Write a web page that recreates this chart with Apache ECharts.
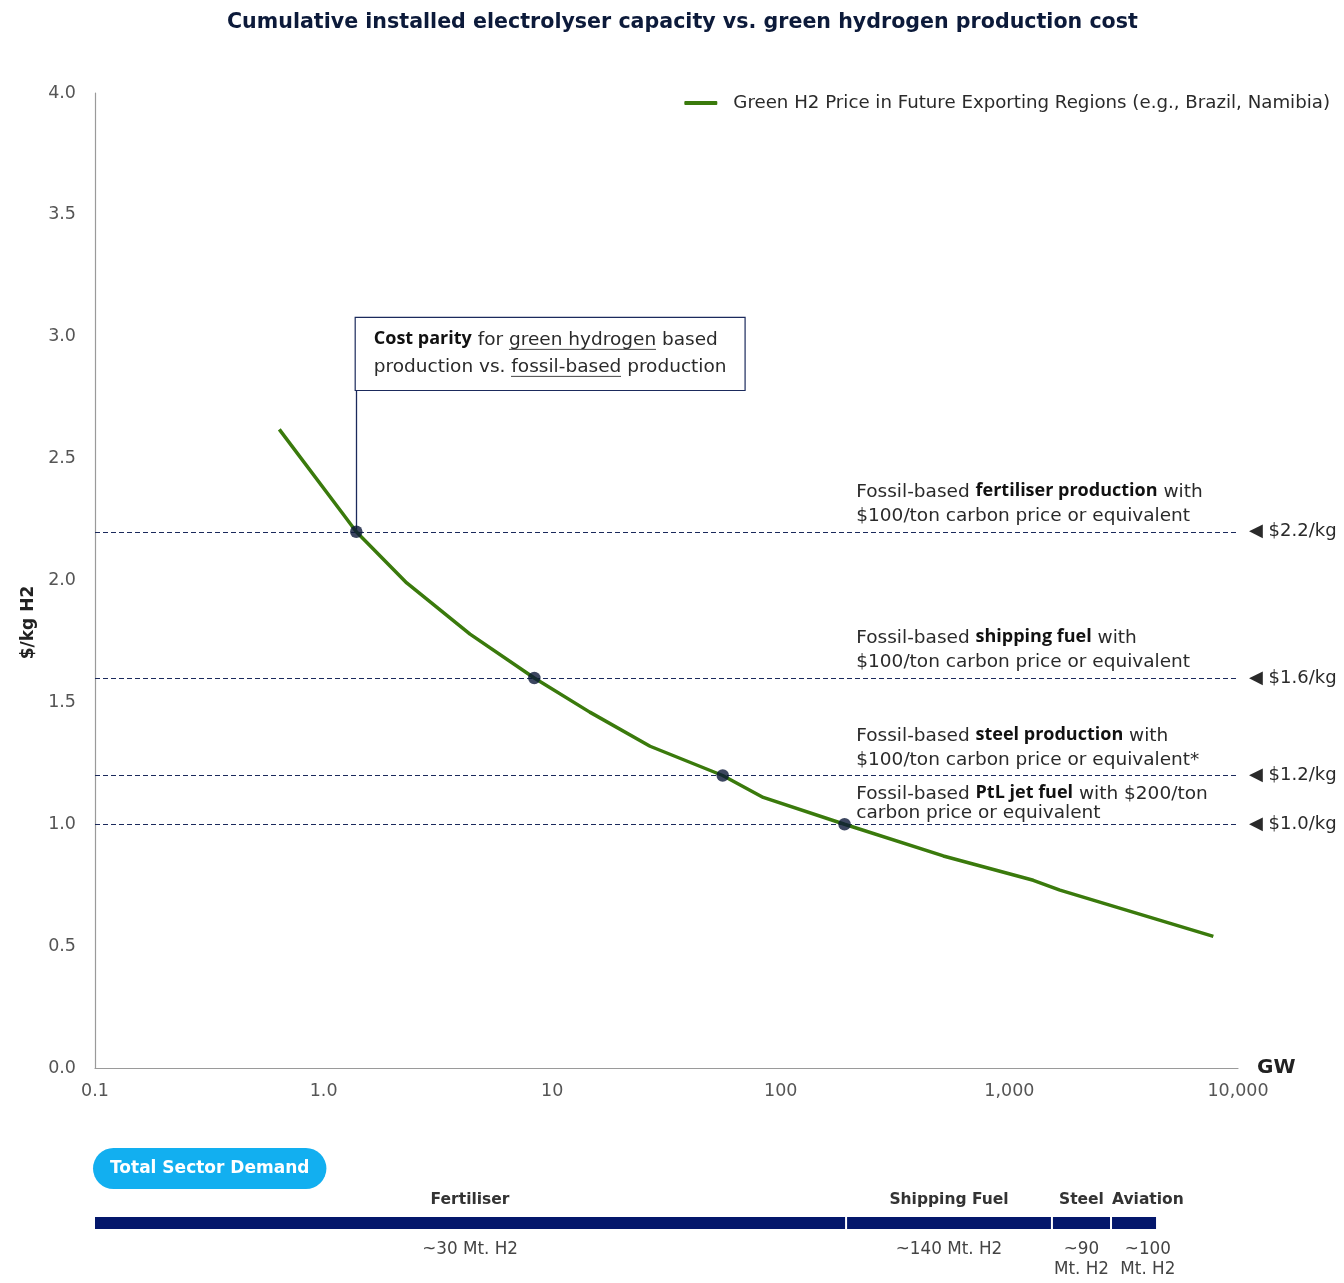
<!DOCTYPE html>
<html>
<head>
<meta charset="utf-8">
<title>Cumulative installed electrolyser capacity vs. green hydrogen production cost</title>
<script src="https://cdn.jsdelivr.net/npm/echarts@6/dist/echarts.min.js"></script>
<style>
  html, body { margin: 0; padding: 0; background: #ffffff; }
  #chart { width: 1344px; height: 1283px; }
</style>
</head>
<body>
<div id="chart"></div>
<script>
// Learning curve: cumulative electrolyser capacity (GW) vs. green H2 cost ($/kg)
const capacityGW   = [0.64, 1.20, 1.39, 2.31, 4.37, 8.35, 14.6, 26.8, 55.7, 83.8, 190, 514, 1272, 1664, 7800];
const costPerKg    = [2.62, 2.28, 2.20, 1.99, 1.78, 1.60, 1.46, 1.32, 1.20, 1.11, 1.00, 0.87, 0.77, 0.73, 0.54];

// Cost-parity points against fossil-based production with a carbon price
const parityGW     = [1.39, 8.35, 55.7, 190];
const parityCost   = [2.2, 1.6, 1.2, 1.0];
const parityTags   = ['$2.2/kg', '$1.6/kg', '$1.2/kg', '$1.0/kg'];
const parityNotes  = [
  'Fossil-based {b|fertiliser production} with\n$100/ton carbon price or equivalent',
  'Fossil-based {b|shipping fuel} with\n$100/ton carbon price or equivalent',
  'Fossil-based {b|steel production} with\n$100/ton carbon price or equivalent*',
  'Fossil-based {b|PtL jet fuel} with $200/ton\ncarbon price or equivalent'
];

// Axis ticks
const xTickValues  = [0.1, 1, 10, 100, 1000, 10000];
const xTickLabels  = ['0.1', '1.0', '10', '100', '1,000', '10,000'];

// Total sector demand, laid along the same capacity scale
const sectorNames   = ['Fertiliser', 'Shipping Fuel', 'Steel', 'Aviation'];
const sectorDemand  = ['~30 Mt. H2', '~140 Mt. H2', '~90\nMt. H2', '~100\nMt. H2'];
const sectorStartGW = [0.1, 193, 1535, 2783];
const sectorEndGW   = [193, 1535, 2783, 4424];

const FONT = 'DejaVu Sans';
const BOLD_FONT = 'Open Sans';
const NAVY = '#0b1838';
const LINE_NAVY = '#1b2a5c';
const GREEN = '#3a7a0c';
const TEXT = '#2a2a2a';
const BODY = 18.5;   // regular annotation text
const BOLD = 18;     // emphasised words inside annotations

// thin underline drawn as a stretched background image behind rich-text words
function underlineImage(h, row, color) {
  const c = document.createElement('canvas');
  c.width = 4; c.height = h;
  const ctx = c.getContext('2d');
  ctx.fillStyle = color;
  ctx.fillRect(0, row, 4, 1);
  return c;
}
const uline = underlineImage(27, 22, '#444');

const measureCtx = document.createElement('canvas').getContext('2d');
function textWidth(str, font) { measureCtx.font = font; return measureCtx.measureText(str).width; }

const chart = echarts.init(document.getElementById('chart'), null, { renderer: 'canvas' });

const noteAnchorGW = 215;
const calloutTop = 2.78;
const hiddenDot = { symbol: 'circle', symbolSize: 1, itemStyle: { color: 'rgba(0,0,0,0)' } };

// Open Sans sits a little lower than DejaVu; a bottom pad lifts it onto the shared baseline
const boldStyle = lh => ({ fontWeight: 'bold', fontFamily: BOLD_FONT, fontSize: BOLD, color: '#111', lineHeight: lh, padding: [0, 0, 3, 0] });

const markPoints = parityNotes.map((note, i) => Object.assign({
  coord: [noteAnchorGW, parityCost[i]],
  label: {
    show: true,
    formatter: note,
    position: [0, i === 3 ? -1 : -3],
    align: 'left',
    verticalAlign: 'bottom',
    fontFamily: FONT,
    fontSize: BODY,
    color: TEXT,
    lineHeight: i === 3 ? 19 : 24,
    rich: { b: boldStyle(i === 3 ? 19 : 24) }
  }
}, hiddenDot));

// cost parity callout box, anchored above the first parity point
markPoints.push(Object.assign({
  coord: [parityGW[0], calloutTop],
  label: {
    show: true,
    formatter: '{b|Cost parity} for {u|green hydrogen} based\nproduction vs. {u|fossil-based} production',
    position: [0, 0],
    align: 'left',
    verticalAlign: 'bottom',
    fontFamily: FONT,
    fontSize: BODY,
    color: TEXT,
    lineHeight: 27,
    backgroundColor: '#ffffff',
    borderColor: LINE_NAVY,
    borderWidth: 1.2,
    padding: [9, 18, 9, 18],
    rich: {
      b: boldStyle(27),
      u: { fontFamily: FONT, fontSize: BODY, color: TEXT, lineHeight: 27, height: 27, backgroundColor: { image: uline } }
    }
  }
}, hiddenDot));

const markLines = parityCost.map((c, i) => ({
  yAxis: c,
  label: { formatter: '\u25C0 ' + parityTags[i] }
}));
markLines.push([
  { coord: [parityGW[0], parityCost[0]], lineStyle: { type: 'solid', width: 1.3, color: LINE_NAVY }, label: { show: false } },
  { coord: [parityGW[0], calloutTop], lineStyle: { type: 'solid', width: 1.3, color: LINE_NAVY }, label: { show: false } }
]);

function tickLabel(v) {
  for (let i = 0; i < xTickValues.length; i++) {
    if (Math.abs(Math.log10(v) - Math.log10(xTickValues[i])) < 1e-6) return xTickLabels[i];
  }
  return '';
}

const option = {
  backgroundColor: '#ffffff',
  animation: false,
  textStyle: { fontFamily: FONT },
  title: [
    {
      text: 'Cumulative installed electrolyser capacity vs. green hydrogen production cost',
      left: 222,
      top: 7,
      textStyle: { fontFamily: FONT, fontWeight: 'bold', fontSize: 20.6, color: '#0c1a3a' }
    },
    {
      text: 'Total Sector Demand',
      left: 93,
      top: 1148,
      backgroundColor: '#12aff0',
      borderRadius: 21,
      padding: [10, 17, 10, 17],
      textStyle: { fontFamily: FONT, fontWeight: 'bold', fontSize: 17, color: '#ffffff', lineHeight: 21 }
    }
  ],
  legend: {
    data: [{ name: 'Green H2 Price in Future Exporting Regions (e.g., Brazil, Namibia)', icon: 'roundRect' }],
    right: 9,
    top: 89,
    itemWidth: 33,
    itemHeight: 4,
    textStyle: { fontFamily: FONT, fontSize: 18.2, color: TEXT, padding: [0, 0, 0, 11] }
  },
  grid: [
    { left: 95, right: 106, top: 93, bottom: 215 },
    { left: 95, right: 106, top: 1217, height: 12 }
  ],
  xAxis: [
    {
      type: 'log', logBase: 10, min: 0.1, max: 10000, gridIndex: 0,
      name: 'GW', nameLocation: 'end', nameGap: 19,
      nameTextStyle: { fontFamily: FONT, fontWeight: 'bold', fontSize: 20, color: '#222', verticalAlign: 'middle' },
      axisLine: { show: true, lineStyle: { color: '#9a9a9a', width: 1.2 } },
      axisTick: { show: false },
      splitLine: { show: false },
      axisLabel: { formatter: tickLabel, fontFamily: FONT, fontSize: 17.5, color: '#555', margin: 14 }
    },
    {
      type: 'log', logBase: 10, min: 0.1, max: 10000, gridIndex: 1, show: false
    }
  ],
  yAxis: [
    {
      type: 'value', min: 0, max: 4, interval: 0.5, gridIndex: 0,
      name: '$/kg H2', nameLocation: 'middle', nameGap: 58, nameRotate: 90,
      nameTextStyle: { fontFamily: FONT, fontWeight: 'bold', fontSize: 17, color: '#222', padding: [0, 84, 0, 0] },
      axisLine: { show: true, lineStyle: { color: '#9a9a9a', width: 1.2 } },
      axisTick: { show: false },
      splitLine: { show: false },
      axisLabel: { formatter: v => v.toFixed(1), fontFamily: FONT, fontSize: 17.5, color: '#555', margin: 19, padding: [4, 0, 0, 0] }
    },
    { type: 'value', min: 0, max: 1, gridIndex: 1, show: false }
  ],
  series: [
    {
      name: 'Green H2 Price in Future Exporting Regions (e.g., Brazil, Namibia)',
      type: 'line',
      xAxisIndex: 0, yAxisIndex: 0,
      data: capacityGW.map((g, i) => [g, costPerKg[i]]),
      symbol: 'none',
      lineStyle: { color: GREEN, width: 3.5 },
      itemStyle: { color: GREEN },
      z: 3,
      markLine: {
        silent: true,
        symbol: 'none',
        lineStyle: { type: [5, 3], color: LINE_NAVY, width: 1.1 },
        label: { show: true, position: 'end', distance: 11, fontFamily: FONT, fontSize: 18, color: TEXT },
        data: markLines,
        z: 2
      },
      markPoint: {
        silent: true,
        data: markPoints,
        z: 6
      }
    },
    {
      name: 'parity',
      type: 'scatter',
      xAxisIndex: 0, yAxisIndex: 0,
      data: parityGW.map((g, i) => [g, parityCost[i]]),
      symbolSize: 12.5,
      itemStyle: { color: NAVY },
      z: 5
    },
    {
      name: 'sector demand',
      type: 'custom',
      xAxisIndex: 1, yAxisIndex: 1,
      data: sectorStartGW.map((s, i) => [s, sectorEndGW[i], i]),
      renderItem: function (params, api) {
        const i = api.value(2);
        const p0 = api.coord([api.value(0), 0]);
        const p1 = api.coord([api.value(1), 1]);
        const x0 = p0[0] + (i > 0 ? 1 : 0);
        const x1 = p1[0] - 1;
        const top = p1[1], bottom = p0[1];
        const nameFont = 'bold 15.5px "' + FONT + '"';
        const nameW = textWidth(sectorNames[i], nameFont);
        let cx = (x0 + x1) / 2;
        // a name wider than the last segment starts at that segment's left edge
        if (nameW > (x1 - x0) + 6 && i === sectorNames.length - 1) cx = x0 + nameW / 2;
        return {
          type: 'group',
          children: [
            { type: 'rect', shape: { x: x0, y: top, width: x1 - x0, height: bottom - top }, style: { fill: '#04176b' } },
            { type: 'text', style: { text: sectorNames[i], x: cx, y: top - 17, align: 'center', verticalAlign: 'middle', font: nameFont, fill: '#333' } },
            { type: 'text', style: { text: sectorDemand[i], x: cx, y: bottom + 11, align: 'center', verticalAlign: 'top', font: '16.8px "' + FONT + '"', fill: '#444', lineHeight: 20 } }
          ]
        };
      }
    }
  ]
};

chart.setOption(option);
</script>
</body>
</html>
